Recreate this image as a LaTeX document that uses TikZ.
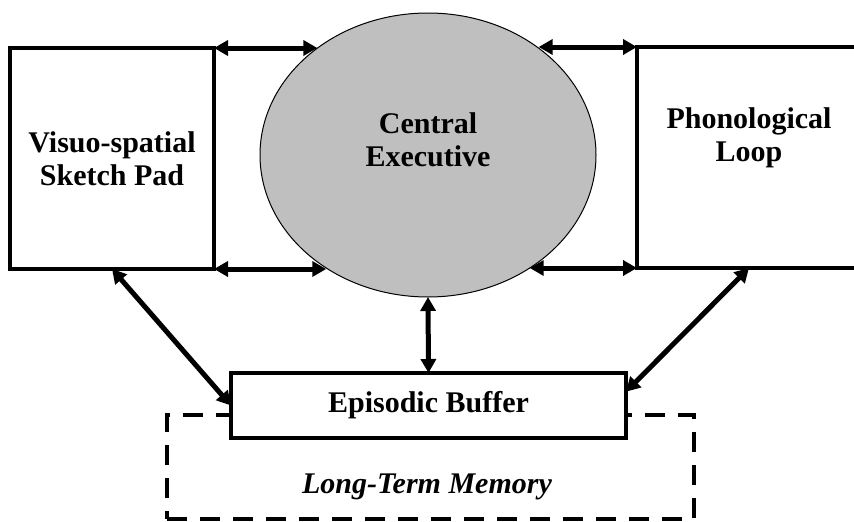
\documentclass[tikz,border=0pt]{standalone}
\usepackage{fontspec}
\setmainfont{Liberation Serif}
\usetikzlibrary{arrows.meta,shapes.geometric,positioning}
\tikzset{> = {Triangle[length=14pt,width=15pt]}, every picture/.style={line width=4pt}}

\begin{document}
\fontsize{30}{33}\selectfont
\begin{tikzpicture}[x=1pt,y=-1pt]
\useasboundingbox (0,0) rectangle (854,522);
% long-term memory frame goes first, the buffer sits on top of it
\node[draw, dash pattern=on 20pt off 13pt, outer sep=0pt, minimum width=527pt, minimum height=104pt] (LTM) at (430.5,467) {};
\node[font=\bfseries\itshape] (LTMtext) at (427,487) {Long-Term Memory};

\begin{scope}[every node/.style={draw, fill=white, outer sep=0pt}]
\node[minimum width=204pt, minimum height=221pt] (VS) at (112,158.5) {};
\node[minimum width=224pt, minimum height=221pt] (PL) at (749,157.5) {};
\node[ellipse, fill=black!25, line width=1pt, minimum width=336pt, minimum height=284pt] (CE) at (428,155) {};
\node[minimum width=395pt, minimum height=65pt, font=\bfseries] (EB) at (428.5,405.5) {Episodic Buffer};
\end{scope}

\begin{scope}[every node/.style={align=center, font=\bfseries}]
\node (VStext) at (VS) {Visuo-spatial\\Sketch Pad};
\node (PLtext) at ([yshift=20pt]PL.center) {Phonological\\Loop};
\node (CEtext) at ([yshift=15pt]CE.center) {Central\\Executive};
\end{scope}

\begin{scope}[every edge/.style={draw, line width=5pt}]
    \path [<->] (VS.north east) edge (VS.north east -| CE.136);
    \path [<->] (VS.south east) edge (VS.south east -| CE.228);
    \path [<->] (PL.north west -| CE.44) edge (PL.north west);
    \path [<->] (PL.south west -| CE.-48) edge (PL.south west);
    \path [<->] (CE.south) edge (EB.north);
    \path [<->] (VS.south) edge (EB.west);
    \path [<->] (PL.south) edge (EB.4);
\end{scope}
\end{tikzpicture}
\end{document}
